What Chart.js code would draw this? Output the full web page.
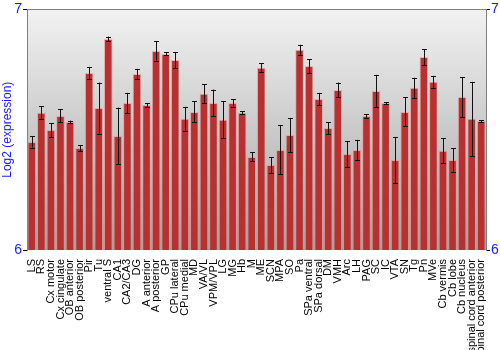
<!DOCTYPE html>
<html>
<head>
<meta charset="utf-8">
<script src="https://cdn.jsdelivr.net/npm/chart.js@4/dist/chart.umd.min.js"></script>
<style>
    html, body { margin: 0; padding: 0; background: #ffffff; }
    #wrap { width: 500px; height: 350px; position: relative; }
</style>
</head>
<body>
<div id="wrap"><canvas id="chart"></canvas></div>
<script>
const regions = [
    'LS', 'RS', 'Cx motor', 'Cx cingulate', 'OB anterior', 'OB posterior', 'Pir', 'Tu',
    'ventral S', 'CA1', 'CA2/CA3', 'DG', 'A anterior', 'A posterior', 'GP', 'CPu lateral',
    'CPu medial', 'MD', 'VA/VL', 'VPM/VPL', 'LG', 'MG', 'Hb', 'M',
    'ME', 'SCN', 'MPA', 'SO', 'Pa', 'SPa ventral', 'SPa dorsal', 'DM',
    'VMH', 'Arc', 'LH', 'PAG', 'SC', 'IC', 'VTA', 'SN',
    'Tg', 'Pn', 'MVe', 'Cb vermis', 'Cb lobe', 'Cb nucleus', 'spinal cord anterior', 'spinal cord posterior'
];

const expression = [
    6.449, 6.570, 6.499, 6.557, 6.532, 6.424, 6.736, 6.590,
    6.877, 6.474, 6.611, 6.732, 6.603, 6.827, 6.815, 6.790,
    6.545, 6.574, 6.649, 6.611, 6.541, 6.611, 6.570, 6.387,
    6.757, 6.353, 6.416, 6.478, 6.832, 6.765, 6.628, 6.507,
    6.665, 6.399, 6.416, 6.557, 6.661, 6.611, 6.374, 6.574,
    6.674, 6.802, 6.699, 6.412, 6.374, 6.636, 6.545, 6.536
];

const expressionError = [
    0.023, 0.027, 0.029, 0.027, 0.006, 0.012, 0.025, 0.106,
    0.010, 0.118, 0.042, 0.021, 0.008, 0.040, 0.006, 0.033,
    0.050, 0.044, 0.040, 0.056, 0.077, 0.015, 0.006, 0.019,
    0.019, 0.033, 0.102, 0.071, 0.021, 0.029, 0.025, 0.025,
    0.031, 0.054, 0.042, 0.008, 0.067, 0.004, 0.096, 0.060,
    0.042, 0.033, 0.025, 0.052, 0.048, 0.083, 0.154, 0.004
];

const yTicks = [6, 7];

const BLUE = '#1a1aff';
const FONT = "'Liberation Sans', Arial, sans-serif";

function barGradient(context) {
    const el = context.element;
    const { ctx } = context.chart;
    if (!el || el.width === undefined) return '#b83030';
    const left = el.x - el.width / 2;
    const right = el.x + el.width / 2;
    const g = ctx.createLinearGradient(left, 0, right, 0);
    g.addColorStop(0, '#d45a5a');
    g.addColorStop(0.35, '#c33a3a');
    g.addColorStop(0.7, '#a52727');
    g.addColorStop(1, '#731414');
    return g;
}

const plotBackground = {
    id: 'plotBackground',
    beforeDraw(chart) {
        const { ctx, chartArea: a } = chart;
        const g = ctx.createLinearGradient(0, a.top, 0, a.bottom);
        g.addColorStop(0, '#f2f2f2');
        g.addColorStop(1, '#a2a2a2');
        ctx.save();
        ctx.fillStyle = g;
        ctx.fillRect(a.left, a.top, a.right - a.left, a.bottom - a.top);
        ctx.restore();
    }
};

const errorBars = {
    id: 'errorBars',
    afterDatasetsDraw(chart) {
        const { ctx, scales: { y } } = chart;
        const meta = chart.getDatasetMeta(0);
        ctx.save();
        ctx.strokeStyle = '#111111';
        ctx.lineWidth = 1;
        meta.data.forEach((bar, i) => {
            const x = Math.round(bar.x) + 0.5;
            const top = y.getPixelForValue(expression[i] + expressionError[i]);
            const bottom = y.getPixelForValue(expression[i] - expressionError[i]);
            ctx.beginPath();
            ctx.moveTo(x, top);
            ctx.lineTo(x, bottom);
            ctx.moveTo(x - 2.5, Math.round(top) + 0.5);
            ctx.lineTo(x + 2.5, Math.round(top) + 0.5);
            ctx.moveTo(x - 2.5, Math.round(bottom) + 0.5);
            ctx.lineTo(x + 2.5, Math.round(bottom) + 0.5);
            ctx.stroke();
        });
        ctx.restore();
    }
};

const ctx = document.getElementById('chart').getContext('2d');

new Chart(ctx, {
    type: 'bar',
    data: {
        labels: regions,
        datasets: [{
            data: expression,
            backgroundColor: barGradient,
            borderColor: 'rgba(235, 140, 140, 0.55)',
            borderWidth: 1,
            borderSkipped: 'bottom',
            barPercentage: 0.9,
            categoryPercentage: 1.0
        }]
    },
    options: {
        responsive: true,
        maintainAspectRatio: false,
        animation: false,
        layout: { padding: { top: 9, left: 0, right: 0, bottom: 0 } },
        plugins: {
            legend: { display: false },
            tooltip: { enabled: false }
        },
        scales: {
            x: {
                grid: { display: false },
                border: { display: false },
                ticks: {
                    autoSkip: false,
                    minRotation: 90,
                    maxRotation: 90,
                    padding: 1,
                    color: '#000000',
                    font: { family: FONT, size: 11 }
                },
                afterFit(scale) { scale.height = 100; }
            },
            y: {
                min: 6,
                max: 7,
                afterBuildTicks(scale) { scale.ticks = yTicks.map(v => ({ value: v })); },
                grid: { drawOnChartArea: false, tickLength: 4, tickColor: '#000000' },
                border: { display: true, color: '#808080', width: 1 },
                ticks: {
                    padding: 1,
                    color: BLUE,
                    font: { family: FONT, size: 14 }
                },
                title: {
                    display: true,
                    text: 'Log2 (expression)',
                    color: BLUE,
                    padding: 0,
                    font: { family: FONT, size: 12 }
                },
                afterFit(scale) { scale.width = 27; }
            },
            y2: {
                position: 'right',
                min: 6,
                max: 7,
                afterBuildTicks(scale) { scale.ticks = yTicks.map(v => ({ value: v })); },
                grid: { drawOnChartArea: false, tickLength: 4, tickColor: '#000000' },
                border: { display: true, color: '#808080', width: 1 },
                ticks: {
                    padding: 1,
                    color: BLUE,
                    font: { family: FONT, size: 14 }
                },
                afterFit(scale) { scale.width = 14; }
            }
        }
    },
    plugins: [plotBackground, errorBars, {
        id: 'topFrame',
        afterDraw(chart) {
            const { ctx, chartArea: a } = chart;
            ctx.save();
            ctx.strokeStyle = '#808080';
            ctx.lineWidth = 1;
            ctx.beginPath();
            ctx.moveTo(a.left, Math.round(a.top) + 0.5);
            ctx.lineTo(a.right, Math.round(a.top) + 0.5);
            ctx.stroke();
            ctx.restore();
        }
    }]
});
</script>
</body>
</html>
